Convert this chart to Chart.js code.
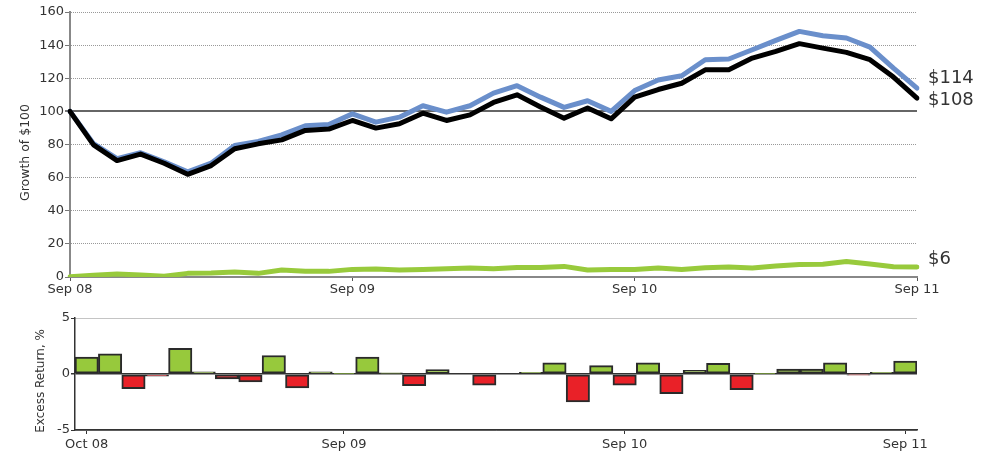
<!DOCTYPE html>
<html>
<head>
<meta charset="utf-8">
<script src="https://cdn.jsdelivr.net/npm/chart.js@4.4.0/dist/chart.umd.min.js"></script>
<style>
  body { margin: 0; background: #fff; }
  #wrap { position: relative; width: 993px; height: 453px; }
  canvas { position: absolute; left: 0; }
  #growthChart { top: 0; }
  #excessChart { top: 300px; }
</style>
</head>
<body>
<div id="wrap">
  <canvas id="growthChart" width="993" height="300"></canvas>
  <canvas id="excessChart" width="993" height="153"></canvas>
</div>
<script>
var months = ["Sep 08", "Oct 08", "Nov 08", "Dec 08", "Jan 09", "Feb 09", "Mar 09", "Apr 09", "May 09",
    "Jun 09", "Jul 09", "Aug 09", "Sep 09", "Oct 09", "Nov 09", "Dec 09", "Jan 10", "Feb 10", "Mar 10",
    "Apr 10", "May 10", "Jun 10", "Jul 10", "Aug 10", "Sep 10", "Oct 10", "Nov 10", "Dec 10", "Jan 11",
    "Feb 11", "Mar 11", "Apr 11", "May 11", "Jun 11", "Jul 11", "Aug 11", "Sep 11"];

// growth of $100
var portfolio = [100, 80.5, 71.5, 75, 69.5, 63.5, 68.7, 79.4, 81.8, 85.8, 91.3, 92.1, 98.5, 93.5, 96.5,
    103.4, 99.5, 103.4, 111, 115.5, 108.6, 102.4, 106.4, 100, 112.6, 118.9, 121.5, 131.2, 131.6, 137.2,
    142.9, 148.3, 145.7, 144.3, 138.8, 126.1, 114];
var benchmark = [100, 79.8, 70.3, 74.2, 68.7, 62, 67.3, 77.4, 80.4, 82.8, 88.5, 89.3, 94.5, 89.9, 92.5,
    98.9, 94.5, 97.9, 105.4, 110, 102.6, 95.9, 102, 95.5, 108.6, 113.2, 117, 125.1, 125.1, 132.2,
    136.2, 140.9, 138.2, 135.6, 131.2, 120.7, 108];
var difference = [0.2, 1, 1.8, 1.2, 0.4, 2.2, 2.4, 3, 2.2, 4.2, 3.4, 3.4, 4.6, 4.8, 4.2, 4.6, 5, 5.4,
    5, 5.8, 5.8, 6.4, 4.2, 4.6, 4.6, 5.4, 4.6, 5.6, 6, 5.4, 6.6, 7.5, 7.7, 9.3, 7.9, 6.2, 6];

// monthly excess return, %
var excessMonths = months.slice(1);
var excessReturn = [1.5, 1.8, -1.3, -0.2, 2.3, 0.2, -0.45, -0.7, 1.65, -1.25, 0.2, 0.05, 1.5, 0.1,
    -1.05, 0.4, 0, -1.0, 0, 0.15, 1.0, -2.5, 0.75, -1.0, 1.0, -1.75, 0.33, 0.95, -1.4, 0.05, 0.45,
    0.45, 1.0, -0.1, 0.15, 1.15];

var growthTicks = ["Sep 08", "Sep 09", "Sep 10", "Sep 11"];
var excessTicks = ["Oct 08", "Sep 09", "Sep 10", "Sep 11"];

var FONT = "'DejaVu Sans', Verdana, sans-serif";
var TEXT = "#333333";

Chart.defaults.font.family = FONT;
Chart.defaults.color = TEXT;

function keepTicks(labels, wanted) {
    return function (scale) {
        scale.ticks = scale.ticks.filter(function (t) {
            return wanted.indexOf(labels[t.value]) >= 0;
        });
    };
}

// "$114" style value labels right of the last point of each line
var endLabels = {
    id: "endLabels",
    afterDatasetsDraw: function (chart, args, opts) {
        var ctx = chart.ctx;
        var yScale = chart.scales.y;
        ctx.save();
        ctx.font = "18px " + FONT;
        ctx.fillStyle = TEXT;
        ctx.textBaseline = "middle";
        ctx.textAlign = "left";
        chart.data.datasets.forEach(function (ds, i) {
            var last = ds.data[ds.data.length - 1];
            var y = yScale.getPixelForValue(last) + (opts.shift[i] || 0);
            ctx.fillText("$" + Math.round(last), chart.chartArea.right + 11, y);
        });
        ctx.restore();
    }
};

// rotated y-axis caption, sitting a little below the middle of the plot
var sideTitle = {
    id: "sideTitle",
    afterDraw: function (chart, args, opts) {
        var ctx = chart.ctx;
        var area = chart.chartArea;
        ctx.save();
        ctx.font = opts.size + "px " + FONT;
        ctx.fillStyle = TEXT;
        ctx.textAlign = "center";
        ctx.textBaseline = "middle";
        ctx.translate(opts.x, (area.top + area.bottom) / 2 + opts.dy);
        ctx.rotate(-Math.PI / 2);
        ctx.fillText(opts.text, 0, 0);
        ctx.restore();
    }
};

new Chart(document.getElementById("growthChart"), {
    type: "line",
    data: {
        labels: months,
        datasets: [
            { data: benchmark, borderColor: "#000000", borderWidth: 5 },
            { data: portfolio, borderColor: "#6a8fcb", borderWidth: 5 },
            { data: difference, borderColor: "#98ca3c", borderWidth: 5 }
        ]
    },
    options: {
        responsive: false,
        animation: false,
        devicePixelRatio: 1,
        layout: { padding: { top: 12, right: 76, left: 0, bottom: 0 } },
        elements: {
            point: { radius: 0 },
            line: { tension: 0, borderCapStyle: "round", borderJoinStyle: "round", fill: false }
        },
        plugins: {
            legend: { display: false },
            tooltip: { enabled: false },
            endLabels: { shift: [2, -10, -8] },
            sideTitle: { text: "Growth of $100", size: 12.5, x: 25.5, dy: 8 }
        },
        scales: {
            x: {
                type: "category",
                offset: false,
                afterBuildTicks: keepTicks(months, growthTicks),
                afterFit: function (s) { s.height = 23; },
                ticks: { autoSkip: false, maxRotation: 0, padding: 1, font: { size: 13 }, color: TEXT },
                grid: { drawOnChartArea: false, drawTicks: true, tickLength: 4, tickColor: "#555" },
                border: { color: "#888", width: 2 }
            },
            y: {
                min: 0,
                max: 160,
                afterFit: function (s) { s.width = 70; },
                ticks: { stepSize: 20, padding: 1, font: { size: 13 }, color: TEXT },
                grid: {
                    color: function (c) { return c.tick && c.tick.value === 100 ? "#666" : "#999"; },
                    lineWidth: function (c) { return c.tick && c.tick.value === 100 ? 2 : 1; },
                    tickLength: 5,
                    tickColor: "#777"
                },
                border: {
                    color: "#888",
                    width: 2,
                    dash: function (c) { return c.tick && c.tick.value !== 100 && c.tick.value !== 0 ? [1, 1] : []; }
                }
            }
        }
    },
    plugins: [endLabels, sideTitle]
});

new Chart(document.getElementById("excessChart"), {
    type: "bar",
    data: {
        labels: excessMonths,
        datasets: [{
            data: excessReturn,
            backgroundColor: function (c) { return c.raw >= 0 ? "#97c93c" : "#e92128"; },
            borderColor: "#2a2a2a",
            borderWidth: 2,
            borderSkipped: false,
            categoryPercentage: 1,
            barPercentage: 1
        }]
    },
    options: {
        responsive: false,
        animation: false,
        devicePixelRatio: 1,
        layout: { padding: { top: 18, right: 76, left: 0, bottom: 0 } },
        plugins: {
            legend: { display: false },
            tooltip: { enabled: false },
            sideTitle: { text: "Excess Return, %", size: 12, x: 40.5, dy: 7 }
        },
        scales: {
            x: {
                type: "category",
                afterBuildTicks: keepTicks(excessMonths, excessTicks),
                afterFit: function (s) { s.height = 23; },
                ticks: { autoSkip: false, maxRotation: 0, padding: 3, font: { size: 13 }, color: TEXT },
                grid: { offset: false, drawOnChartArea: false, drawTicks: true, tickLength: 4, tickColor: "#333" },
                border: { color: "#333", width: 1.5 }
            },
            y: {
                min: -5,
                max: 5,
                afterFit: function (s) { s.width = 75; },
                ticks: { stepSize: 5, padding: 1, font: { size: 13 }, color: TEXT },
                grid: {
                    color: function (c) { return c.tick && c.tick.value === 0 ? "#333" : "#888"; },
                    lineWidth: function (c) { return c.tick && c.tick.value === 0 ? 1.5 : 1; },
                    tickLength: 4,
                    tickColor: "#333"
                },
                border: {
                    color: "#333",
                    width: 1.5,
                    dash: function (c) { return c.tick && c.tick.value === 5 ? [1, 1] : []; }
                }
            }
        }
    },
    plugins: [sideTitle]
});
</script>
</body>
</html>
